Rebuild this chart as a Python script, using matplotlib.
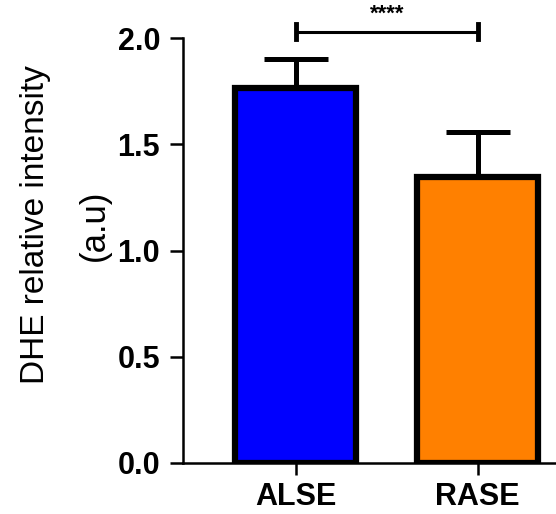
import matplotlib
matplotlib.use('Agg')
import matplotlib.pyplot as plt

# bar values
groups = ['ALSE', 'RASE']
means = [1.765, 1.346]
errors = [0.135, 0.212]
colors = ['#0000FF', '#FF8000']
sig_label = '****'
sig_y = 2.03

plt.rcParams['font.family'] = ['Liberation Sans', 'DejaVu Sans']

fig = plt.figure(figsize=(5.56, 5.14), dpi=100)
ax = fig.add_axes([183 / 556, 51 / 514, 1 - 183 / 556, (463 - 38) / 514])

x = list(range(len(groups)))
ax.bar(x, means, width=0.665, color=colors, edgecolor='black', linewidth=4.5, zorder=2)
ax.errorbar(x, means, yerr=[[0] * len(errors), errors], fmt='none', ecolor='black',
            elinewidth=3.6, capsize=23, capthick=3.6, zorder=1)

# significance bracket
ax.plot([0, 1], [sig_y, sig_y], color='black', lw=2.2, clip_on=False)
for xi in x:
    ax.plot([xi, xi], [sig_y - 0.035, sig_y + 0.035], color='black', lw=3.5, clip_on=False)
ax.text(0.5, sig_y + 0.08, sig_label, ha='center', va='center', fontsize=16,
        fontweight='bold')

ax.set_xlim(-0.62, 1.43)
ax.set_ylim(0, 2.0)
ax.set_yticks([0.0, 0.5, 1.0, 1.5, 2.0])
ax.set_yticklabels(['0.0', '0.5', '1.0', '1.5', '2.0'])
ax.set_xticks(x)
ax.set_xticklabels(groups)

for side in ['top', 'right']:
    ax.spines[side].set_visible(False)
for side in ['left', 'bottom']:
    ax.spines[side].set_linewidth(1.8)

ax.tick_params(axis='y', length=9.4, width=1.8, labelsize=22, pad=7)
ax.tick_params(axis='x', length=8.5, width=1.8, labelsize=22, pad=5)
for lab in ax.get_xticklabels() + ax.get_yticklabels():
    lab.set_fontweight('bold')

# y label in two pieces, placed as in the reference
fig.text(36 / 556, 1 - 225 / 514, 'DHE relative intensity', rotation=90,
         ha='center', va='center', fontsize=24)
fig.text(94 / 556, 1 - 225 / 514, '(a.u)', rotation=90,
         ha='center', va='center', fontsize=25)

fig.savefig('out.png', dpi=100)
